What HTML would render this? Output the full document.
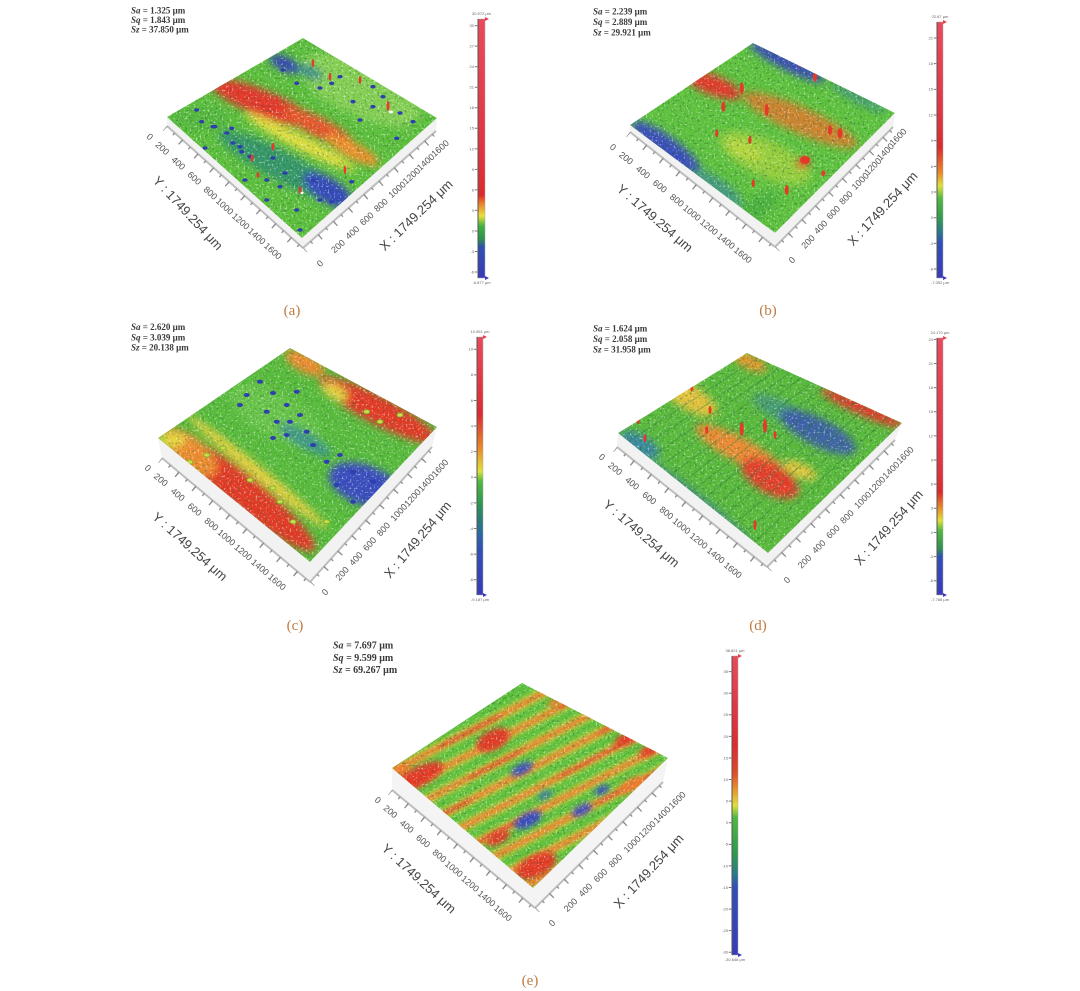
<!DOCTYPE html>
<html><head><meta charset="utf-8">
<style>html,body{margin:0;padding:0;background:#fff}svg{display:block}</style>
</head><body>
<svg width="1080" height="991" viewBox="0 0 1080 991" xmlns="http://www.w3.org/2000/svg">
<defs>
<filter id="b2" x="-30%" y="-30%" width="160%" height="160%"><feGaussianBlur stdDeviation="2"/></filter>
<filter id="b3" x="-30%" y="-30%" width="160%" height="160%"><feGaussianBlur stdDeviation="3"/></filter>
<filter id="b4" x="-30%" y="-30%" width="160%" height="160%"><feGaussianBlur stdDeviation="4"/></filter>
<filter id="spW" x="0" y="0" width="1" height="1" color-interpolation-filters="sRGB">
<feTurbulence type="fractalNoise" baseFrequency="0.5" numOctaves="2" seed="4"/>
<feColorMatrix type="matrix" values="0 0 0 0 1 0 0 0 0 1 0 0 0 0 1 6 0 0 0 -3.5"/>
</filter>
<filter id="spD" x="0" y="0" width="1" height="1" color-interpolation-filters="sRGB">
<feTurbulence type="fractalNoise" baseFrequency="0.4" numOctaves="2" seed="9"/>
<feColorMatrix type="matrix" values="0 0 0 0 0.12 0 0 0 0 0.35 0 0 0 0 0.2 0 6 0 0 -3.5"/>
</filter>
<clipPath id="cA"><polygon points="167,117 303,38 437,118 302,238"/></clipPath>
<clipPath id="cB"><polygon points="630,125 753,43 895,113 775,233"/></clipPath>
<clipPath id="cC"><polygon points="158,438 290,348 437,427 310,562"/></clipPath>
<clipPath id="cD"><polygon points="618,433 747,353 902,423 768,553"/></clipPath>
<clipPath id="cE"><polygon points="392,768 522,683 668,758 533,888"/></clipPath>
<linearGradient id="gA" x1="0" y1="0" x2="0" y2="1">
<stop offset="0" stop-color="#ea4a5c"/><stop offset=".55" stop-color="#e0323e"/><stop offset=".68" stop-color="#dd2a2a"/><stop offset=".71" stop-color="#e87a2a"/><stop offset=".76" stop-color="#e8e03a"/><stop offset=".80" stop-color="#40b040"/><stop offset=".85" stop-color="#2f8f4f"/><stop offset=".88" stop-color="#3050b0"/><stop offset="1" stop-color="#3a3ab8"/>
</linearGradient>
<linearGradient id="gB" x1="0" y1="0" x2="0" y2="1">
<stop offset="0" stop-color="#ea4a5c"/><stop offset=".40" stop-color="#e0323e"/><stop offset=".49" stop-color="#dd2a2a"/><stop offset=".59" stop-color="#e88a2a"/><stop offset=".64" stop-color="#e0e03a"/><stop offset=".69" stop-color="#50b840"/><stop offset=".77" stop-color="#2f9a4f"/><stop offset=".82" stop-color="#2a7a8a"/><stop offset=".86" stop-color="#3050b8"/><stop offset="1" stop-color="#3a3ab8"/>
</linearGradient>
<linearGradient id="gC" x1="0" y1="0" x2="0" y2="1">
<stop offset="0" stop-color="#ea4a5c"/><stop offset=".30" stop-color="#dd2a30"/><stop offset=".43" stop-color="#e88a2a"/><stop offset=".52" stop-color="#e0e03a"/><stop offset=".56" stop-color="#50b840"/><stop offset=".64" stop-color="#2f9a4f"/><stop offset=".70" stop-color="#2a8070"/><stop offset=".76" stop-color="#2a6aa0"/><stop offset=".82" stop-color="#3050b8"/><stop offset="1" stop-color="#3a3ab8"/>
</linearGradient>
<linearGradient id="gD" x1="0" y1="0" x2="0" y2="1">
<stop offset="0" stop-color="#ea4a5c"/><stop offset=".52" stop-color="#e0323e"/><stop offset=".60" stop-color="#dd2a2a"/><stop offset=".66" stop-color="#e88a2a"/><stop offset=".71" stop-color="#e0e03a"/><stop offset=".75" stop-color="#50b840"/><stop offset=".82" stop-color="#2f8f4f"/><stop offset=".85" stop-color="#3050b8"/><stop offset="1" stop-color="#3a3ab8"/>
</linearGradient>
<linearGradient id="gE" x1="0" y1="0" x2="0" y2="1">
<stop offset="0" stop-color="#ea4a5c"/><stop offset=".30" stop-color="#dd2a30"/><stop offset=".39" stop-color="#e04a2a"/><stop offset=".44" stop-color="#e88a2a"/><stop offset=".50" stop-color="#e0e03a"/><stop offset=".54" stop-color="#50b840"/><stop offset=".66" stop-color="#2f9a4f"/><stop offset=".73" stop-color="#2a7a8a"/><stop offset=".77" stop-color="#3050b8"/><stop offset="1" stop-color="#3a3ab8"/>
</linearGradient>
</defs>
<rect width="1080" height="991" fill="#fff"/>

<!-- ================= PANEL A ================= -->
<g>
<polygon points="167,117 302,238 437,118 436,131 303,248 167,126" fill="#f2f2f2"/>
<line x1="167" y1="126" x2="303" y2="248" stroke="#bdbdbd" stroke-width="2"/>
<line x1="303" y1="248" x2="436" y2="131" stroke="#bdbdbd" stroke-width="2"/>
<g stroke="#8a8a8a" fill="none">
<line x1="166" y1="127.1" x2="302" y2="249.1" stroke-width="3" pathLength="1749.254" stroke-dasharray="12 88" stroke-dashoffset="6"/>
<line x1="165" y1="128.2" x2="301" y2="250.2" stroke-width="6" pathLength="1749.254" stroke-dasharray="12 188" stroke-dashoffset="6"/>
<line x1="304" y1="249.1" x2="437" y2="132.1" stroke-width="3" pathLength="1749.254" stroke-dasharray="12 88" stroke-dashoffset="6"/>
<line x1="305" y1="250.3" x2="438" y2="133.3" stroke-width="6" pathLength="1749.254" stroke-dasharray="12 188" stroke-dashoffset="6"/>
</g>
<g clip-path="url(#cA)">
<polygon points="167,117 303,38 437,118 302,238" fill="#5cbf3c"/>
<g filter="url(#b4)">
<ellipse cx="360" cy="90" rx="65" ry="26" transform="rotate(25 360 90)" fill="#84cf52"/>
<ellipse cx="200" cy="118" rx="30" ry="12" fill="#55b83e"/>
<ellipse cx="285" cy="64" rx="17" ry="7" transform="rotate(25 285 64)" fill="#3447b4"/>
<ellipse cx="310" cy="72" rx="14" ry="6" transform="rotate(25 310 72)" fill="#3a8c88"/>
<ellipse cx="285" cy="168" rx="75" ry="15" transform="rotate(28 285 168)" fill="#2f8f70" opacity=".85"/>
<ellipse cx="328" cy="190" rx="28" ry="12" transform="rotate(32 328 190)" fill="#3548bc"/>
<ellipse cx="300" cy="142" rx="62" ry="7" transform="rotate(27 300 142)" fill="#e4de3e"/>
<ellipse cx="262" cy="103" rx="55" ry="13" transform="rotate(22 262 103)" fill="#e4392a"/>
<ellipse cx="318" cy="127" rx="40" ry="10" transform="rotate(27 318 127)" fill="#e9562a"/>
<ellipse cx="352" cy="150" rx="30" ry="8" transform="rotate(28 352 150)" fill="#ef902c"/>
</g>
<rect x="160" y="35" width="280" height="205" fill="#fff" filter="url(#spW)" opacity=".55"/>
<rect x="160" y="35" width="280" height="205" fill="#000" filter="url(#spD)" opacity=".35"/>
<g fill="#2e3fb0">
<ellipse cx="201.7" cy="121.7" rx="2.6" ry="1.8"/><ellipse cx="215" cy="126.7" rx="2.6" ry="1.8"/><ellipse cx="231.7" cy="128.3" rx="2.6" ry="1.8"/><ellipse cx="233" cy="143" rx="2.6" ry="1.8"/><ellipse cx="241.7" cy="151.7" rx="2.6" ry="1.8"/><ellipse cx="205" cy="148" rx="2.6" ry="1.8"/><ellipse cx="245" cy="180" rx="2.6" ry="1.8"/><ellipse cx="266.7" cy="180" rx="2.6" ry="1.8"/><ellipse cx="273" cy="158" rx="2.6" ry="1.8"/><ellipse cx="285" cy="173" rx="2.6" ry="1.8"/><ellipse cx="300" cy="230" rx="2.6" ry="1.8"/><ellipse cx="313" cy="180" rx="2.6" ry="1.8"/><ellipse cx="331.7" cy="201.7" rx="2.6" ry="1.8"/><ellipse cx="320" cy="200" rx="2.6" ry="1.8"/><ellipse cx="351.7" cy="181.7" rx="2.6" ry="1.8"/><ellipse cx="396.7" cy="138.3" rx="2.6" ry="1.8"/><ellipse cx="413" cy="121.7" rx="2.6" ry="1.8"/><ellipse cx="320" cy="88" rx="2.6" ry="1.8"/><ellipse cx="331.7" cy="83.3" rx="2.6" ry="1.8"/><ellipse cx="340" cy="76.7" rx="2.6" ry="1.8"/><ellipse cx="353" cy="101.7" rx="2.6" ry="1.8"/><ellipse cx="373" cy="106.7" rx="2.6" ry="1.8"/><ellipse cx="383" cy="96.7" rx="2.6" ry="1.8"/><ellipse cx="400" cy="113" rx="2.6" ry="1.8"/><ellipse cx="296.7" cy="83.3" rx="2.6" ry="1.8"/><ellipse cx="283" cy="70" rx="2.6" ry="1.8"/><ellipse cx="360" cy="120" rx="2.6" ry="1.8"/><ellipse cx="373" cy="86.7" rx="2.6" ry="1.8"/><ellipse cx="196.7" cy="110" rx="2.6" ry="1.8"/><ellipse cx="213" cy="126.7" rx="2.6" ry="1.8"/><ellipse cx="226.7" cy="133" rx="2.6" ry="1.8"/><ellipse cx="240" cy="146.7" rx="2.6" ry="1.8"/><ellipse cx="250" cy="156.7" rx="2.6" ry="1.8"/><ellipse cx="280" cy="186.7" rx="2.6" ry="1.8"/><ellipse cx="266.7" cy="200" rx="2.6" ry="1.8"/><ellipse cx="296.7" cy="210" rx="2.6" ry="1.8"/>
</g>
<g fill="#e8392b">
<ellipse cx="313" cy="63" rx="1.3" ry="4"/><ellipse cx="360" cy="80" rx="1.3" ry="4"/><ellipse cx="388" cy="106" rx="1.5" ry="5"/><ellipse cx="273" cy="146.7" rx="1.3" ry="4"/><ellipse cx="300" cy="190" rx="1.3" ry="4"/><ellipse cx="345" cy="170" rx="1.3" ry="4"/><ellipse cx="276.7" cy="100" rx="1.3" ry="4"/><ellipse cx="330" cy="76.7" rx="1.3" ry="4"/><ellipse cx="252" cy="158" rx="1.3" ry="4"/><ellipse cx="258" cy="175" rx="1.3" ry="3"/>
</g>
<ellipse cx="391" cy="112" rx="2" ry="1.5" fill="#fff"/><ellipse cx="302" cy="193" rx="1.5" ry="1.2" fill="#fff"/>
</g>
<g font-family="Liberation Sans, sans-serif" font-size="9" fill="#555" text-anchor="end">
<text x="151.9" y="138.4" dy=".35em" transform="rotate(42 151.9 138.4)">0</text>
<text x="168.0" y="153.3" dy=".35em" transform="rotate(42 168.0 153.3)">200</text>
<text x="184.0" y="168.2" dy=".35em" transform="rotate(42 184.0 168.2)">400</text>
<text x="200.1" y="183.1" dy=".35em" transform="rotate(42 200.1 183.1)">600</text>
<text x="216.1" y="198.0" dy=".35em" transform="rotate(42 216.1 198.0)">800</text>
<text x="232.2" y="213.0" dy=".35em" transform="rotate(42 232.2 213.0)">1000</text>
<text x="248.3" y="227.9" dy=".35em" transform="rotate(42 248.3 227.9)">1200</text>
<text x="264.3" y="242.8" dy=".35em" transform="rotate(42 264.3 242.8)">1400</text>
<text x="280.4" y="257.7" dy=".35em" transform="rotate(42 280.4 257.7)">1600</text>
</g>
<g font-family="Liberation Sans, sans-serif" font-size="9" fill="#555" text-anchor="start">
<text x="318.1" y="265.0" dy=".35em" transform="rotate(-41.5 318.1 265.0)">0</text>
<text x="332.4" y="251.2" dy=".35em" transform="rotate(-41.5 332.4 251.2)">200</text>
<text x="346.7" y="237.5" dy=".35em" transform="rotate(-41.5 346.7 237.5)">400</text>
<text x="361.0" y="223.7" dy=".35em" transform="rotate(-41.5 361.0 223.7)">600</text>
<text x="375.3" y="210.0" dy=".35em" transform="rotate(-41.5 375.3 210.0)">800</text>
<text x="389.6" y="196.2" dy=".35em" transform="rotate(-41.5 389.6 196.2)">1000</text>
<text x="403.9" y="182.4" dy=".35em" transform="rotate(-41.5 403.9 182.4)">1200</text>
<text x="418.2" y="168.7" dy=".35em" transform="rotate(-41.5 418.2 168.7)">1400</text>
<text x="432.5" y="154.9" dy=".35em" transform="rotate(-41.5 432.5 154.9)">1600</text>
</g>
<g font-family="Liberation Sans, sans-serif" font-size="13" fill="#444" text-anchor="middle">
<text x="188" y="213" dy=".35em" transform="rotate(47 188 213)">Y : 1749.254 μm</text>
<text x="416" y="215" dy=".35em" transform="rotate(-44 416 215)">X : 1749.254 μm</text>
</g>
<g font-family="Liberation Serif, serif" font-size="9" font-weight="bold" fill="#3a3a3a">
<text x="131" y="13.5"><tspan font-style="italic">Sa</tspan> = 1.325 μm</text>
<text x="131" y="23"><tspan font-style="italic">Sq</tspan> = 1.843 μm</text>
<text x="131" y="32.5"><tspan font-style="italic">Sz</tspan> = 37.850 μm</text>
</g>
<rect x="478" y="19" width="7" height="259" fill="url(#gA)" stroke="#aaa" stroke-width=".5"/>
<line x1="478" y1="19" x2="478" y2="278" stroke="#555" stroke-width="1"/>
<polygon points="485,17 489,19 485,21" fill="#e84050"/><polygon points="485,276 489,278 485,280" fill="#3a3ab8"/>
<line x1="476" y1="25.15" x2="476" y2="273" stroke="#777" stroke-width="2.5" stroke-dasharray="1 19.53"/>
<g font-family="Liberation Sans, sans-serif" font-size="4" fill="#666" text-anchor="end">
<text x="474" y="27">30</text><text x="474" y="47.6">27</text><text x="474" y="68.1">24</text><text x="474" y="88.6">21</text><text x="474" y="109.2">18</text><text x="474" y="129.7">15</text><text x="474" y="150.3">12</text><text x="474" y="170.8">9</text><text x="474" y="191.4">6</text><text x="474" y="211.8">3</text><text x="474" y="232.4">0</text><text x="474" y="252.9">-3</text><text x="474" y="273.5">-6</text>
</g>
<g font-family="Liberation Sans, sans-serif" font-size="4" fill="#666" text-anchor="middle">
<text x="481.5" y="15">30.972 μm</text><text x="481.5" y="284">-6.877 μm</text>
</g>
<text x="292" y="315" font-family="Liberation Serif, serif" font-size="15" fill="#c07a40" text-anchor="middle">(a)</text>
</g>

<!-- ================= PANEL B ================= -->
<g>
<polygon points="630,125 775,233 895,113 893,127 775,247 630,132" fill="#f2f2f2"/>
<line x1="630" y1="132" x2="775" y2="247" stroke="#bdbdbd" stroke-width="2"/>
<line x1="775" y1="247" x2="893" y2="127" stroke="#bdbdbd" stroke-width="2"/>
<g stroke="#8a8a8a" fill="none">
<line x1="629.1" y1="133.2" x2="774.1" y2="248.2" stroke-width="3" pathLength="1749.254" stroke-dasharray="12 88" stroke-dashoffset="6"/>
<line x1="628.1" y1="134.4" x2="773.1" y2="249.4" stroke-width="6" pathLength="1749.254" stroke-dasharray="12 188" stroke-dashoffset="6"/>
<line x1="776.1" y1="248.1" x2="894.1" y2="128.1" stroke-width="3" pathLength="1749.254" stroke-dasharray="12 88" stroke-dashoffset="6"/>
<line x1="777.1" y1="249.1" x2="895.1" y2="129.1" stroke-width="6" pathLength="1749.254" stroke-dasharray="12 188" stroke-dashoffset="6"/>
</g>
<g clip-path="url(#cB)">
<polygon points="630,125 753,43 895,113 775,233" fill="#5ec23e"/>
<g filter="url(#b4)">
<ellipse cx="765" cy="158" rx="50" ry="18" transform="rotate(25 765 158)" fill="#a8d23e" opacity=".75"/>
<ellipse cx="745" cy="150" rx="20" ry="8" transform="rotate(25 745 150)" fill="#cfdc40" opacity=".6"/>
<ellipse cx="666" cy="147" rx="42" ry="11" transform="rotate(36 666 147)" fill="#3a4fba"/>
<ellipse cx="718" cy="188" rx="30" ry="9" transform="rotate(36 718 188)" fill="#3a8a98" opacity=".7"/>
<ellipse cx="787" cy="62" rx="42" ry="8" transform="rotate(27 787 62)" fill="#3a50b4"/>
<ellipse cx="858" cy="98" rx="32" ry="5" transform="rotate(27 858 98)" fill="#3a8c8c" opacity=".7"/>
<ellipse cx="800" cy="120" rx="62" ry="13" transform="rotate(24 800 120)" fill="#e8742c" opacity=".8"/>
<ellipse cx="713" cy="85" rx="30" ry="10" transform="rotate(22 713 85)" fill="#e23a2a"/>
<ellipse cx="803" cy="163" rx="7" ry="5" fill="#e23a2a"/>
<ellipse cx="755" cy="210" rx="28" ry="10" transform="rotate(-40 755 210)" fill="#4cb23c"/>
</g>
<rect x="625" y="40" width="275" height="195" fill="#fff" filter="url(#spW)" opacity=".45"/>
<rect x="625" y="40" width="275" height="195" fill="#000" filter="url(#spD)" opacity=".4"/>
<g fill="#e5392a">
<ellipse cx="741.7" cy="88.3" rx="2" ry="6"/><ellipse cx="723.3" cy="106.7" rx="2" ry="5"/><ellipse cx="766.7" cy="110" rx="2" ry="6"/><ellipse cx="800" cy="63.3" rx="1.5" ry="4"/><ellipse cx="840" cy="133.3" rx="2.5" ry="5"/><ellipse cx="830" cy="130" rx="2" ry="5"/><ellipse cx="750" cy="140" rx="1.5" ry="4"/><ellipse cx="786.7" cy="190" rx="2" ry="5"/><ellipse cx="753.3" cy="183.3" rx="1.5" ry="4"/><ellipse cx="716.7" cy="133.3" rx="1.5" ry="4"/><ellipse cx="815" cy="76.7" rx="2" ry="5"/><ellipse cx="823.3" cy="173.3" rx="2" ry="3"/><ellipse cx="805" cy="160" rx="5" ry="4"/>
</g>
</g>
<g font-family="Liberation Sans, sans-serif" font-size="9" fill="#555" text-anchor="end">
<text x="615.0" y="148.6" dy=".35em" transform="rotate(38.4 615.0 148.6)">0</text>
<text x="632.0" y="162.7" dy=".35em" transform="rotate(38.4 632.0 162.7)">200</text>
<text x="649.0" y="176.8" dy=".35em" transform="rotate(38.4 649.0 176.8)">400</text>
<text x="665.9" y="190.8" dy=".35em" transform="rotate(38.4 665.9 190.8)">600</text>
<text x="682.9" y="204.9" dy=".35em" transform="rotate(38.4 682.9 204.9)">800</text>
<text x="699.9" y="219.0" dy=".35em" transform="rotate(38.4 699.9 219.0)">1000</text>
<text x="716.9" y="233.1" dy=".35em" transform="rotate(38.4 716.9 233.1)">1200</text>
<text x="733.9" y="247.2" dy=".35em" transform="rotate(38.4 733.9 247.2)">1400</text>
<text x="750.8" y="261.2" dy=".35em" transform="rotate(38.4 750.8 261.2)">1600</text>
</g>
<g font-family="Liberation Sans, sans-serif" font-size="9" fill="#555" text-anchor="start">
<text x="790.2" y="261.8" dy=".35em" transform="rotate(-45.5 790.2 261.8)">0</text>
<text x="802.8" y="247.1" dy=".35em" transform="rotate(-45.5 802.8 247.1)">200</text>
<text x="815.4" y="232.4" dy=".35em" transform="rotate(-45.5 815.4 232.4)">400</text>
<text x="828.0" y="217.7" dy=".35em" transform="rotate(-45.5 828.0 217.7)">600</text>
<text x="840.6" y="203.0" dy=".35em" transform="rotate(-45.5 840.6 203.0)">800</text>
<text x="853.2" y="188.3" dy=".35em" transform="rotate(-45.5 853.2 188.3)">1000</text>
<text x="865.8" y="173.5" dy=".35em" transform="rotate(-45.5 865.8 173.5)">1200</text>
<text x="878.4" y="158.8" dy=".35em" transform="rotate(-45.5 878.4 158.8)">1400</text>
<text x="891.0" y="144.1" dy=".35em" transform="rotate(-45.5 891.0 144.1)">1600</text>
</g>
<g font-family="Liberation Sans, sans-serif" font-size="13" fill="#444" text-anchor="middle">
<text x="655" y="218" dy=".35em" transform="rotate(41 655 218)">Y : 1749.254 μm</text>
<text x="882.5" y="208.5" dy=".35em" transform="rotate(-47 882.5 208.5)">X : 1749.254 μm</text>
</g>
<g font-family="Liberation Serif, serif" font-size="9" font-weight="bold" fill="#3a3a3a">
<text x="593" y="14.5"><tspan font-style="italic">Sa</tspan> = 2.239 μm</text>
<text x="593" y="25"><tspan font-style="italic">Sq</tspan> = 2.889 μm</text>
<text x="593" y="35.5"><tspan font-style="italic">Sz</tspan> = 29.921 μm</text>
</g>
<rect x="937" y="22" width="6" height="256" fill="url(#gB)" stroke="#aaa" stroke-width=".5"/>
<line x1="937" y1="22" x2="937" y2="278" stroke="#555" stroke-width="1"/>
<polygon points="943,20 947,22 943,24" fill="#e84050"/><polygon points="943,276 947,278 943,280" fill="#3a3ab8"/>
<line x1="935" y1="37.5" x2="935" y2="270" stroke="#777" stroke-width="2.5" stroke-dasharray="1 24.67"/>
<g font-family="Liberation Sans, sans-serif" font-size="4" fill="#666" text-anchor="end">
<text x="933" y="39.4">21</text><text x="933" y="65.1">18</text><text x="933" y="90.7">15</text><text x="933" y="116.4">12</text><text x="933" y="142.1">9</text><text x="933" y="167.8">6</text><text x="933" y="193.4">3</text><text x="933" y="219.1">0</text><text x="933" y="244.8">-3</text><text x="933" y="270.4">-6</text>
</g>
<g font-family="Liberation Sans, sans-serif" font-size="4" fill="#666" text-anchor="middle">
<text x="940" y="18">22.87 μm</text><text x="940" y="284">-7.052 μm</text>
</g>
<text x="768" y="315" font-family="Liberation Serif, serif" font-size="15" fill="#c07a40" text-anchor="middle">(b)</text>
</g>

<!-- ================= PANEL C ================= -->
<g>
<polygon points="158,438 310,562 437,427 432,447 310,582 162,458" fill="#f2f2f2"/>
<line x1="162" y1="458" x2="310" y2="582" stroke="#bdbdbd" stroke-width="2"/>
<line x1="310" y1="582" x2="432" y2="447" stroke="#bdbdbd" stroke-width="2"/>
<g stroke="#8a8a8a" fill="none">
<line x1="161" y1="459.2" x2="309" y2="583.2" stroke-width="3" pathLength="1749.254" stroke-dasharray="12 88" stroke-dashoffset="6"/>
<line x1="160.1" y1="460.3" x2="308.1" y2="584.3" stroke-width="6" pathLength="1749.254" stroke-dasharray="12 188" stroke-dashoffset="6"/>
<line x1="311.1" y1="583" x2="433.1" y2="448" stroke-width="3" pathLength="1749.254" stroke-dasharray="12 88" stroke-dashoffset="6"/>
<line x1="312.2" y1="584" x2="434.2" y2="449" stroke-width="6" pathLength="1749.254" stroke-dasharray="12 188" stroke-dashoffset="6"/>
</g>
<g clip-path="url(#cC)">
<polygon points="158,438 290,348 437,427 310,562" fill="#58bb3c"/>
<g filter="url(#b4)">
<ellipse cx="275" cy="415" rx="50" ry="22" transform="rotate(30 275 415)" fill="#68c44a"/>
<ellipse cx="258" cy="472" rx="90" ry="6" transform="rotate(39 258 472)" fill="#e6d03c"/>
<ellipse cx="243" cy="492" rx="92" ry="17" transform="rotate(39 243 492)" fill="#e23a26"/>
<ellipse cx="190" cy="452" rx="33" ry="15" transform="rotate(39 190 452)" fill="#ee8c2e"/>
<ellipse cx="172" cy="440" rx="14" ry="7" fill="#e4d63c"/>
<ellipse cx="378" cy="410" rx="66" ry="14" transform="rotate(28 378 410)" fill="#e23a28"/>
<ellipse cx="305" cy="363" rx="22" ry="9" transform="rotate(28 305 363)" fill="#ee8a2e"/>
<ellipse cx="335" cy="392" rx="14" ry="7" transform="rotate(28 335 392)" fill="#e6d040"/>
<ellipse cx="305" cy="440" rx="30" ry="8" transform="rotate(30 305 440)" fill="#2f86a0" opacity=".7"/>
<ellipse cx="365" cy="485" rx="38" ry="20" transform="rotate(20 365 485)" fill="#3a4ebf"/>
</g>
<rect x="150" y="345" width="290" height="220" fill="#fff" filter="url(#spW)" opacity=".5"/>
<rect x="150" y="345" width="290" height="220" fill="#000" filter="url(#spD)" opacity=".3"/>
<g fill="#2e3fb0">
<ellipse cx="260" cy="381.7" rx="3" ry="2"/><ellipse cx="273" cy="393" rx="3" ry="2"/><ellipse cx="286.7" cy="405" rx="3" ry="2"/><ellipse cx="296.7" cy="391.7" rx="3" ry="2"/><ellipse cx="266.7" cy="411.7" rx="3" ry="2"/><ellipse cx="276.7" cy="421.7" rx="3" ry="2"/><ellipse cx="290" cy="421.7" rx="3" ry="2"/><ellipse cx="300" cy="415" rx="3" ry="2"/><ellipse cx="306.7" cy="431.7" rx="3" ry="2"/><ellipse cx="286.7" cy="435" rx="3" ry="2"/><ellipse cx="273" cy="438" rx="3" ry="2"/><ellipse cx="313" cy="445" rx="3" ry="2"/><ellipse cx="326.7" cy="461.7" rx="3" ry="2"/><ellipse cx="340" cy="455" rx="3" ry="2"/><ellipse cx="353" cy="471.7" rx="3" ry="2"/><ellipse cx="336.7" cy="485" rx="3" ry="2"/><ellipse cx="353" cy="501.7" rx="3" ry="2"/><ellipse cx="373" cy="481.7" rx="3" ry="2"/><ellipse cx="240" cy="405" rx="3" ry="2"/><ellipse cx="246.7" cy="395" rx="3" ry="2"/>
</g>
<g fill="#d8d840" stroke="#6ab83a" stroke-width=".8">
<ellipse cx="206.7" cy="455" rx="3" ry="2"/><ellipse cx="223" cy="448" rx="3" ry="2"/><ellipse cx="280" cy="501.7" rx="3" ry="2"/><ellipse cx="293" cy="521.7" rx="3" ry="2"/><ellipse cx="273" cy="488" rx="3" ry="2"/><ellipse cx="326.7" cy="521.7" rx="3" ry="2"/><ellipse cx="380" cy="421.7" rx="3" ry="2"/><ellipse cx="400" cy="415" rx="3" ry="2"/><ellipse cx="366.7" cy="411.7" rx="3" ry="2"/><ellipse cx="190" cy="462" rx="3" ry="2"/><ellipse cx="250" cy="480" rx="3" ry="2"/>
</g>
</g>
<g font-family="Liberation Sans, sans-serif" font-size="9" fill="#555" text-anchor="end">
<text x="149.9" y="469.6" dy=".35em" transform="rotate(40 149.9 469.6)">0</text>
<text x="166.7" y="484.5" dy=".35em" transform="rotate(40 166.7 484.5)">200</text>
<text x="183.6" y="499.3" dy=".35em" transform="rotate(40 183.6 499.3)">400</text>
<text x="200.5" y="514.2" dy=".35em" transform="rotate(40 200.5 514.2)">600</text>
<text x="217.3" y="529.0" dy=".35em" transform="rotate(40 217.3 529.0)">800</text>
<text x="234.2" y="543.9" dy=".35em" transform="rotate(40 234.2 543.9)">1000</text>
<text x="251.0" y="558.7" dy=".35em" transform="rotate(40 251.0 558.7)">1200</text>
<text x="267.9" y="573.6" dy=".35em" transform="rotate(40 267.9 573.6)">1400</text>
<text x="284.7" y="588.4" dy=".35em" transform="rotate(40 284.7 588.4)">1600</text>
</g>
<g font-family="Liberation Sans, sans-serif" font-size="9" fill="#555" text-anchor="start">
<text x="323.3" y="593.9" dy=".35em" transform="rotate(-48 323.3 593.9)">0</text>
<text x="337.1" y="579.1" dy=".35em" transform="rotate(-48 337.1 579.1)">200</text>
<text x="350.8" y="564.3" dy=".35em" transform="rotate(-48 350.8 564.3)">400</text>
<text x="364.6" y="549.5" dy=".35em" transform="rotate(-48 364.6 549.5)">600</text>
<text x="378.3" y="534.7" dy=".35em" transform="rotate(-48 378.3 534.7)">800</text>
<text x="392.1" y="519.8" dy=".35em" transform="rotate(-48 392.1 519.8)">1000</text>
<text x="405.8" y="505.0" dy=".35em" transform="rotate(-48 405.8 505.0)">1200</text>
<text x="419.6" y="490.2" dy=".35em" transform="rotate(-48 419.6 490.2)">1400</text>
<text x="433.3" y="475.4" dy=".35em" transform="rotate(-48 433.3 475.4)">1600</text>
</g>
<g font-family="Liberation Sans, sans-serif" font-size="13" fill="#444" text-anchor="middle">
<text x="190" y="546.5" dy=".35em" transform="rotate(42 190 546.5)">Y : 1749.254 μm</text>
<text x="417.5" y="539.5" dy=".35em" transform="rotate(-49.8 417.5 539.5)">X : 1749.254 μm</text>
</g>
<g font-family="Liberation Serif, serif" font-size="9" font-weight="bold" fill="#3a3a3a">
<text x="131" y="330"><tspan font-style="italic">Sa</tspan> = 2.620 μm</text>
<text x="131" y="340.5"><tspan font-style="italic">Sq</tspan> = 3.039 μm</text>
<text x="131" y="350.5"><tspan font-style="italic">Sz</tspan> = 20.138 μm</text>
</g>
<rect x="477" y="337" width="6" height="258" fill="url(#gC)" stroke="#aaa" stroke-width=".5"/>
<line x1="477" y1="337" x2="477" y2="595" stroke="#555" stroke-width="1"/>
<polygon points="483,335 487,337 483,339" fill="#e84050"/><polygon points="483,593 487,595 483,597" fill="#3a3ab8"/>
<line x1="475" y1="348.7" x2="475" y2="581" stroke="#777" stroke-width="2.5" stroke-dasharray="1 24.62"/>
<g font-family="Liberation Sans, sans-serif" font-size="4" fill="#666" text-anchor="end">
<text x="473" y="350.6">10</text><text x="473" y="376.2">8</text><text x="473" y="401.8">6</text><text x="473" y="427.4">4</text><text x="473" y="453.1">2</text><text x="473" y="478.7">0</text><text x="473" y="504.3">-2</text><text x="473" y="529.9">-4</text><text x="473" y="555.5">-6</text><text x="473" y="581.1">-8</text>
</g>
<g font-family="Liberation Sans, sans-serif" font-size="4" fill="#666" text-anchor="middle">
<text x="480" y="333">10.951 μm</text><text x="480" y="601">-9.187 μm</text>
</g>
<text x="295" y="630" font-family="Liberation Serif, serif" font-size="15" fill="#c07a40" text-anchor="middle">(c)</text>
</g>

<!-- ================= PANEL D ================= -->
<g>
<polygon points="618,433 768,553 902,423 895,440 767,567 617,447" fill="#f2f2f2"/>
<line x1="617" y1="447" x2="767" y2="567" stroke="#bdbdbd" stroke-width="2"/>
<line x1="767" y1="567" x2="895" y2="440" stroke="#bdbdbd" stroke-width="2"/>
<g stroke="#8a8a8a" fill="none">
<line x1="616.1" y1="448.2" x2="766.1" y2="568.2" stroke-width="3" pathLength="1749.254" stroke-dasharray="12 88" stroke-dashoffset="6"/>
<line x1="615.1" y1="449.3" x2="765.1" y2="569.3" stroke-width="6" pathLength="1749.254" stroke-dasharray="12 188" stroke-dashoffset="6"/>
<line x1="768.1" y1="568.1" x2="896.1" y2="441.1" stroke-width="3" pathLength="1749.254" stroke-dasharray="12 88" stroke-dashoffset="6"/>
<line x1="769.1" y1="569.1" x2="897.1" y2="442.1" stroke-width="6" pathLength="1749.254" stroke-dasharray="12 188" stroke-dashoffset="6"/>
</g>
<g clip-path="url(#cD)">
<polygon points="618,433 747,353 902,423 768,553" fill="#5aba3c"/>
<g filter="url(#b4)">
<ellipse cx="640" cy="445" rx="22" ry="10" transform="rotate(30 640 445)" fill="#3a8aa0"/>
<ellipse cx="700" cy="503" rx="68" ry="7" transform="rotate(39 700 503)" fill="#3a7aa8" opacity=".6"/>
<ellipse cx="690" cy="398" rx="30" ry="12" transform="rotate(30 690 398)" fill="#e4c23a"/>
<ellipse cx="740" cy="450" rx="50" ry="12" transform="rotate(28 740 450)" fill="#ee8a30"/>
<ellipse cx="770" cy="478" rx="32" ry="15" transform="rotate(30 770 478)" fill="#e4402a"/>
<ellipse cx="800" cy="470" rx="18" ry="7" transform="rotate(25 800 470)" fill="#e6c83a"/>
<ellipse cx="780" cy="410" rx="30" ry="10" transform="rotate(27 780 410)" fill="#3a8a9a" opacity=".6"/>
<ellipse cx="818" cy="432" rx="42" ry="14" transform="rotate(27 818 432)" fill="#3a55b5" opacity=".85"/>
<ellipse cx="862" cy="408" rx="45" ry="7" transform="rotate(24 862 408)" fill="#e23a2a"/>
<ellipse cx="750" cy="362" rx="18" ry="7" transform="rotate(25 750 362)" fill="#e8952c"/>
</g>
<g stroke="#2c7a3c" stroke-width="1.3" opacity=".35">
<line x1="628.5" y1="441.4" x2="757.9" y2="357.9"/><line x1="639" y1="449.8" x2="768.7" y2="362.8"/><line x1="649.5" y1="458.2" x2="779.6" y2="367.7"/><line x1="660" y1="466.6" x2="790.4" y2="372.6"/><line x1="670.5" y1="475" x2="801.3" y2="377.5"/><line x1="681" y1="483.4" x2="812.1" y2="382.4"/><line x1="691.5" y1="491.8" x2="823" y2="387.3"/><line x1="702" y1="500.2" x2="833.8" y2="392.2"/><line x1="712.5" y1="508.6" x2="844.7" y2="397.1"/><line x1="723" y1="517" x2="855.5" y2="402"/><line x1="733.5" y1="525.4" x2="866.4" y2="406.9"/><line x1="744" y1="533.8" x2="877.2" y2="411.8"/><line x1="754.5" y1="542.2" x2="888.1" y2="416.7"/>
</g>
<rect x="612" y="350" width="295" height="206" fill="#fff" filter="url(#spW)" opacity=".45"/>
<rect x="612" y="350" width="295" height="206" fill="#000" filter="url(#spD)" opacity=".35"/>
<g fill="#e5392a">
<ellipse cx="678.3" cy="388" rx="2" ry="8"/><ellipse cx="691.7" cy="386.7" rx="1.5" ry="5"/><ellipse cx="741.7" cy="429" rx="2" ry="7"/><ellipse cx="765" cy="426" rx="2" ry="7"/><ellipse cx="638.3" cy="420" rx="1.5" ry="4"/><ellipse cx="645" cy="438.3" rx="1.5" ry="4"/><ellipse cx="710" cy="410" rx="1.5" ry="4"/><ellipse cx="786.7" cy="481.7" rx="2" ry="5"/><ellipse cx="755" cy="525" rx="1.5" ry="5"/><ellipse cx="706.7" cy="430" rx="1.5" ry="4"/><ellipse cx="775" cy="435" rx="1.5" ry="4"/>
</g>
</g>
<g font-family="Liberation Sans, sans-serif" font-size="9" fill="#555" text-anchor="end">
<text x="604.0" y="458.6" dy=".35em" transform="rotate(38.7 604.0 458.6)">0</text>
<text x="621.1" y="473.3" dy=".35em" transform="rotate(38.7 621.1 473.3)">200</text>
<text x="638.2" y="488.0" dy=".35em" transform="rotate(38.7 638.2 488.0)">400</text>
<text x="655.3" y="502.7" dy=".35em" transform="rotate(38.7 655.3 502.7)">600</text>
<text x="672.4" y="517.5" dy=".35em" transform="rotate(38.7 672.4 517.5)">800</text>
<text x="689.5" y="532.2" dy=".35em" transform="rotate(38.7 689.5 532.2)">1000</text>
<text x="706.6" y="546.9" dy=".35em" transform="rotate(38.7 706.6 546.9)">1200</text>
<text x="723.7" y="561.6" dy=".35em" transform="rotate(38.7 723.7 561.6)">1400</text>
<text x="740.8" y="576.3" dy=".35em" transform="rotate(38.7 740.8 576.3)">1600</text>
</g>
<g font-family="Liberation Sans, sans-serif" font-size="9" fill="#555" text-anchor="start">
<text x="785.2" y="581.8" dy=".35em" transform="rotate(-44.8 785.2 581.8)">0</text>
<text x="799.3" y="566.8" dy=".35em" transform="rotate(-44.8 799.3 566.8)">200</text>
<text x="813.4" y="551.9" dy=".35em" transform="rotate(-44.8 813.4 551.9)">400</text>
<text x="827.5" y="536.9" dy=".35em" transform="rotate(-44.8 827.5 536.9)">600</text>
<text x="841.6" y="522.0" dy=".35em" transform="rotate(-44.8 841.6 522.0)">800</text>
<text x="855.6" y="507.0" dy=".35em" transform="rotate(-44.8 855.6 507.0)">1000</text>
<text x="869.7" y="492.0" dy=".35em" transform="rotate(-44.8 869.7 492.0)">1200</text>
<text x="883.8" y="477.1" dy=".35em" transform="rotate(-44.8 883.8 477.1)">1400</text>
<text x="897.9" y="462.1" dy=".35em" transform="rotate(-44.8 897.9 462.1)">1600</text>
</g>
<g font-family="Liberation Sans, sans-serif" font-size="13" fill="#444" text-anchor="middle">
<text x="641.5" y="533.5" dy=".35em" transform="rotate(40.8 641.5 533.5)">Y : 1749.254 μm</text>
<text x="888.5" y="527.5" dy=".35em" transform="rotate(-48.4 888.5 527.5)">X : 1749.254 μm</text>
</g>
<g font-family="Liberation Serif, serif" font-size="9" font-weight="bold" fill="#3a3a3a">
<text x="593" y="331.5"><tspan font-style="italic">Sa</tspan> = 1.624 μm</text>
<text x="593" y="342"><tspan font-style="italic">Sq</tspan> = 2.058 μm</text>
<text x="593" y="352.5"><tspan font-style="italic">Sz</tspan> = 31.958 μm</text>
</g>
<rect x="937" y="338" width="6" height="257" fill="url(#gD)" stroke="#aaa" stroke-width=".5"/>
<line x1="937" y1="338" x2="937" y2="595" stroke="#555" stroke-width="1"/>
<polygon points="943,336 947,338 943,340" fill="#e84050"/><polygon points="943,593 947,595 943,597" fill="#3a3ab8"/>
<line x1="935" y1="338.9" x2="935" y2="582" stroke="#777" stroke-width="2.5" stroke-dasharray="1 23.13"/>
<g font-family="Liberation Sans, sans-serif" font-size="4" fill="#666" text-anchor="end">
<text x="933" y="340.8">24</text><text x="933" y="364.9">21</text><text x="933" y="389">18</text><text x="933" y="413.1">15</text><text x="933" y="437.3">12</text><text x="933" y="461.4">9</text><text x="933" y="485.5">6</text><text x="933" y="509.7">3</text><text x="933" y="533.8">0</text><text x="933" y="557.9">-3</text><text x="933" y="582">-6</text>
</g>
<g font-family="Liberation Sans, sans-serif" font-size="4" fill="#666" text-anchor="middle">
<text x="940" y="334">24.170 μm</text><text x="940" y="601">-7.788 μm</text>
</g>
<text x="758" y="630" font-family="Liberation Serif, serif" font-size="15" fill="#c07a40" text-anchor="middle">(d)</text>
</g>

<!-- ================= PANEL E ================= -->
<g>
<polygon points="392,768 533,888 668,758 663,782 535,908 392,790" fill="#f4f4f4"/>
<line x1="392" y1="790" x2="535" y2="908" stroke="#bdbdbd" stroke-width="2"/>
<line x1="535" y1="908" x2="663" y2="782" stroke="#bdbdbd" stroke-width="2"/>
<g stroke="#8a8a8a" fill="none">
<line x1="391" y1="791.2" x2="534" y2="909.2" stroke-width="3" pathLength="1749.254" stroke-dasharray="12 88" stroke-dashoffset="6"/>
<line x1="390.1" y1="792.3" x2="533.1" y2="910.3" stroke-width="6" pathLength="1749.254" stroke-dasharray="12 188" stroke-dashoffset="6"/>
<line x1="536" y1="909.1" x2="664" y2="783.1" stroke-width="3" pathLength="1749.254" stroke-dasharray="12 88" stroke-dashoffset="6"/>
<line x1="537.1" y1="910.1" x2="665.1" y2="784.1" stroke-width="6" pathLength="1749.254" stroke-dasharray="12 188" stroke-dashoffset="6"/>
</g>
<g clip-path="url(#cE)">
<polygon points="392,768 522,683 668,758 533,888" fill="#5cc03c"/>
<g filter="url(#b2)" stroke-linecap="round">
<g stroke="#d8e040" stroke-width="12" opacity=".6">
<line x1="380" y1="778" x2="680" y2="622"/><line x1="380" y1="801" x2="680" y2="645"/><line x1="380" y1="824" x2="680" y2="668"/><line x1="380" y1="847" x2="680" y2="691"/><line x1="380" y1="870" x2="680" y2="714"/><line x1="380" y1="893" x2="680" y2="737"/><line x1="380" y1="916" x2="680" y2="760"/><line x1="380" y1="939" x2="680" y2="783"/><line x1="380" y1="962" x2="680" y2="806"/>
</g>
<g stroke="#ee7f2e" stroke-width="6.5" opacity=".95">
<line x1="380" y1="778" x2="680" y2="622"/><line x1="380" y1="801" x2="680" y2="645"/><line x1="380" y1="824" x2="680" y2="668"/><line x1="380" y1="847" x2="680" y2="691"/><line x1="380" y1="870" x2="680" y2="714"/><line x1="380" y1="893" x2="680" y2="737"/><line x1="380" y1="916" x2="680" y2="760"/><line x1="380" y1="939" x2="680" y2="783"/><line x1="380" y1="962" x2="680" y2="806"/>
</g>
<g stroke="#e33a28" stroke-width="4">
<line x1="440" y1="747" x2="500" y2="716"/><line x1="560" y1="707" x2="620" y2="676"/><line x1="470" y1="778" x2="520" y2="752"/><line x1="600" y1="733" x2="660" y2="702"/><line x1="420" y1="826" x2="470" y2="800"/><line x1="560" y1="776" x2="620" y2="745"/><line x1="480" y1="841" x2="530" y2="815"/><line x1="600" y1="802" x2="660" y2="771"/><line x1="450" y1="902" x2="500" y2="876"/><line x1="560" y1="868" x2="610" y2="842"/>
</g>
</g>
<g filter="url(#b3)">
<ellipse cx="528" cy="820" rx="15" ry="7" transform="rotate(-27 528 820)" fill="#3a4cc0"/>
<ellipse cx="522" cy="769" rx="12" ry="5" transform="rotate(-27 522 769)" fill="#3a4cc0"/>
<ellipse cx="582" cy="810" rx="11" ry="5" transform="rotate(-27 582 810)" fill="#3a4cc0"/>
<ellipse cx="602" cy="790" rx="8" ry="4" transform="rotate(-27 602 790)" fill="#3a4cc0"/>
<ellipse cx="545" cy="795" rx="8" ry="4" transform="rotate(-27 545 795)" fill="#3a6ab0" opacity=".8"/>
<ellipse cx="418" cy="777" rx="28" ry="10" transform="rotate(-27 418 777)" fill="#e43a28"/>
<ellipse cx="400" cy="770" rx="10" ry="5" transform="rotate(-27 400 770)" fill="#ee7a2c"/>
<ellipse cx="493" cy="740" rx="18" ry="10" transform="rotate(-27 493 740)" fill="#e43a28"/>
<ellipse cx="536" cy="866" rx="22" ry="11" transform="rotate(-27 536 866)" fill="#e43a28"/>
<ellipse cx="498" cy="838" rx="13" ry="6" transform="rotate(-27 498 838)" fill="#e43a28"/>
<ellipse cx="628" cy="738" rx="15" ry="6" transform="rotate(-27 628 738)" fill="#e43a28"/>
<ellipse cx="650" cy="750" rx="12" ry="5" transform="rotate(-27 650 750)" fill="#e43a28"/>
<ellipse cx="632" cy="785" rx="14" ry="6" transform="rotate(-27 632 785)" fill="#ee7a2c"/>
<ellipse cx="560" cy="700" rx="14" ry="4" transform="rotate(-27 560 700)" fill="#ee7a2c"/>
</g>
<rect x="388" y="680" width="284" height="212" fill="#fff" filter="url(#spW)" opacity=".5"/>
<rect x="388" y="680" width="284" height="212" fill="#000" filter="url(#spD)" opacity=".35"/>
</g>
<g font-family="Liberation Sans, sans-serif" font-size="9" fill="#555" text-anchor="end">
<text x="379.9" y="801.6" dy=".35em" transform="rotate(39.5 379.9 801.6)">0</text>
<text x="396.3" y="816.3" dy=".35em" transform="rotate(39.5 396.3 816.3)">200</text>
<text x="412.6" y="831.1" dy=".35em" transform="rotate(39.5 412.6 831.1)">400</text>
<text x="429.0" y="845.8" dy=".35em" transform="rotate(39.5 429.0 845.8)">600</text>
<text x="445.3" y="860.5" dy=".35em" transform="rotate(39.5 445.3 860.5)">800</text>
<text x="461.7" y="875.3" dy=".35em" transform="rotate(39.5 461.7 875.3)">1000</text>
<text x="478.0" y="890.0" dy=".35em" transform="rotate(39.5 478.0 890.0)">1200</text>
<text x="494.4" y="904.8" dy=".35em" transform="rotate(39.5 494.4 904.8)">1400</text>
<text x="510.7" y="919.4" dy=".35em" transform="rotate(39.5 510.7 919.4)">1600</text>
</g>
<g font-family="Liberation Sans, sans-serif" font-size="9" fill="#555" text-anchor="start">
<text x="550.2" y="924.8" dy=".35em" transform="rotate(-44.5 550.2 924.8)">0</text>
<text x="565.2" y="910.1" dy=".35em" transform="rotate(-44.5 565.2 910.1)">200</text>
<text x="580.1" y="895.3" dy=".35em" transform="rotate(-44.5 580.1 895.3)">400</text>
<text x="595.1" y="880.6" dy=".35em" transform="rotate(-44.5 595.1 880.6)">600</text>
<text x="610.0" y="865.9" dy=".35em" transform="rotate(-44.5 610.0 865.9)">800</text>
<text x="625.0" y="851.1" dy=".35em" transform="rotate(-44.5 625.0 851.1)">1000</text>
<text x="640.0" y="836.4" dy=".35em" transform="rotate(-44.5 640.0 836.4)">1200</text>
<text x="654.9" y="821.7" dy=".35em" transform="rotate(-44.5 654.9 821.7)">1400</text>
<text x="669.9" y="807.0" dy=".35em" transform="rotate(-44.5 669.9 807.0)">1600</text>
</g>
<g font-family="Liberation Sans, sans-serif" font-size="13" fill="#444" text-anchor="middle">
<text x="419" y="878.5" dy=".35em" transform="rotate(42.8 419 878.5)">Y : 1749.254 μm</text>
<text x="648.5" y="871" dy=".35em" transform="rotate(-47.2 648.5 871)">X : 1749.254 μm</text>
</g>
<g font-family="Liberation Serif, serif" font-size="10" font-weight="bold" fill="#3a3a3a">
<text x="333" y="648.5"><tspan font-style="italic">Sa</tspan> = 7.697 μm</text>
<text x="333" y="661"><tspan font-style="italic">Sq</tspan> = 9.599 μm</text>
<text x="333" y="673"><tspan font-style="italic">Sz</tspan> = 69.267 μm</text>
</g>
<rect x="732" y="656" width="6" height="299" fill="url(#gE)" stroke="#aaa" stroke-width=".5"/>
<line x1="732" y1="656" x2="732" y2="955" stroke="#555" stroke-width="1"/>
<polygon points="738,654 742,656 738,658" fill="#e84050"/><polygon points="738,953 742,955 738,957" fill="#3a3ab8"/>
<line x1="730" y1="671.1" x2="730" y2="953" stroke="#777" stroke-width="2.5" stroke-dasharray="1 20.59"/>
<g font-family="Liberation Sans, sans-serif" font-size="4" fill="#666" text-anchor="end">
<text x="728" y="673">35</text><text x="728" y="694.6">30</text><text x="728" y="716.2">25</text><text x="728" y="737.8">20</text><text x="728" y="759.4">15</text><text x="728" y="781">10</text><text x="728" y="802.5">5</text><text x="728" y="824.1">0</text><text x="728" y="845.7">-5</text><text x="728" y="867.3">-10</text><text x="728" y="888.9">-15</text><text x="728" y="910.5">-20</text><text x="728" y="932.1">-25</text><text x="728" y="953.7">-30</text>
</g>
<g font-family="Liberation Sans, sans-serif" font-size="4" fill="#666" text-anchor="middle">
<text x="735" y="652">38.621 μm</text><text x="735" y="961">-30.646 μm</text>
</g>
<text x="530" y="985" font-family="Liberation Serif, serif" font-size="15" fill="#c07a40" text-anchor="middle">(e)</text>
</g>
</svg>
</body></html>
